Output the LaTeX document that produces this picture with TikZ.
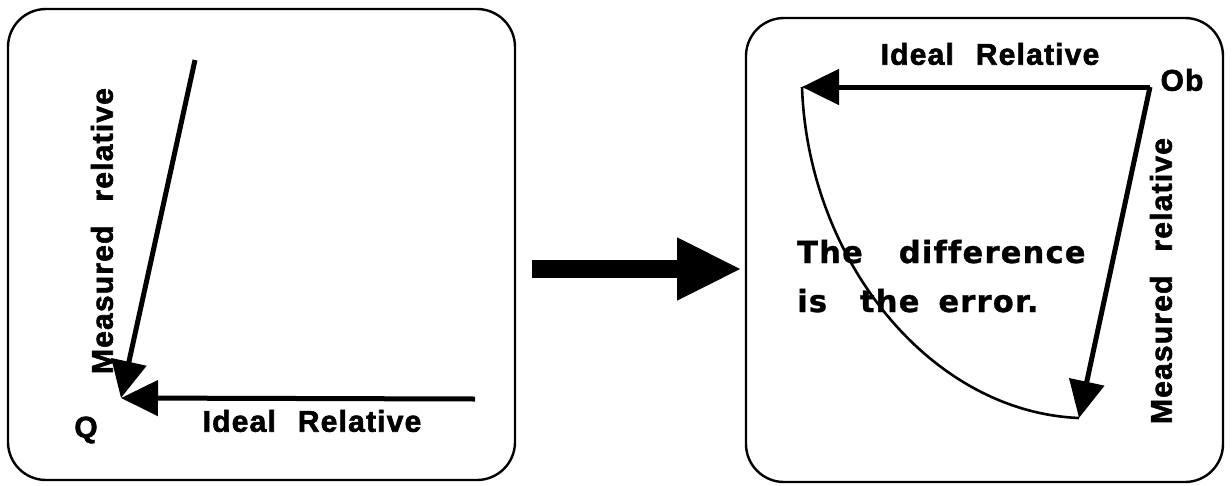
\documentclass[tikz,border=0pt]{standalone}
\usepackage{fontspec}
\setmainfont{Liberation Sans}
\newfontfamily\lab{Liberation Sans}[LetterSpace=4,FakeBold=2]
\newfontfamily\labw{DejaVu Sans}[LetterSpace=4,FakeBold=1,Ligatures=CommonOff]
\usetikzlibrary{arrows.meta}
\begin{document}
\begin{tikzpicture}[x=1pt,y=-1pt,
  panel/.style={draw, line width=2.4pt, rounded corners=38pt, minimum width=#1, inner sep=0pt},
  vec/.style={line width=5pt, -{Triangle[length=37pt,width=35pt]}},
  lbl/.style={font=\lab\bfseries\fontsize{30}{36}\selectfont, inner sep=0pt},
  big/.style={font=\labw\bfseries\fontsize{30.5}{36}\selectfont, inner sep=0pt, anchor=base west}]
\useasboundingbox (0,0) rectangle (1232,485);
% panels
\node[panel=507pt, minimum height=471pt] (boxL) at (261.5,244.5) {};
\node[panel=477pt, minimum height=464pt] (boxR) at (984.5,250) {};
% left panel
\coordinate (Q) at (121,398);
\coordinate (mL) at (195,60);
\coordinate (iL) at (475,399);
\draw[vec] (mL) -- (Q);
\draw[vec] (iL) -- (Q);
\node[lbl] (q) at (86,430) {Q};
\node[lbl] (idL) at (312,421) {Ideal\hspace{22pt}Relative};
\node[lbl, rotate=90] (meL) at (102,231) {Measured\hspace{24pt}relative};
% middle arrow
\coordinate (a0) at (532,269);
\coordinate (a1) at (742,269);
\draw[line width=18pt, -{Triangle[length=65pt,width=58pt]}] (a0) -- (a1);
% right panel
\coordinate (Ob) at (1150,87);
\coordinate (iR) at (802,87);
\coordinate (mR) at (1079,418);
\draw[vec] (Ob) -- (iR);
\draw[vec] (Ob) -- (mR);
\draw[line width=2.6pt] (iR) .. controls (808,260) and (930,412) .. (mR);
\node[lbl] (ob) at (1182,80) {Ob};
\node[lbl] (idR) at (990,54) {Ideal\hspace{22pt}Relative};
\node[lbl, rotate=90] (meR) at (1161,281) {Measured\hspace{24pt}relative};
\node[big] (t1) at (797,263) {The\hspace{36pt}difference};
\node[big] (t2) at (797,312) {is\hspace{33pt}the\hspace{19pt}error.};
\end{tikzpicture}
\end{document}
